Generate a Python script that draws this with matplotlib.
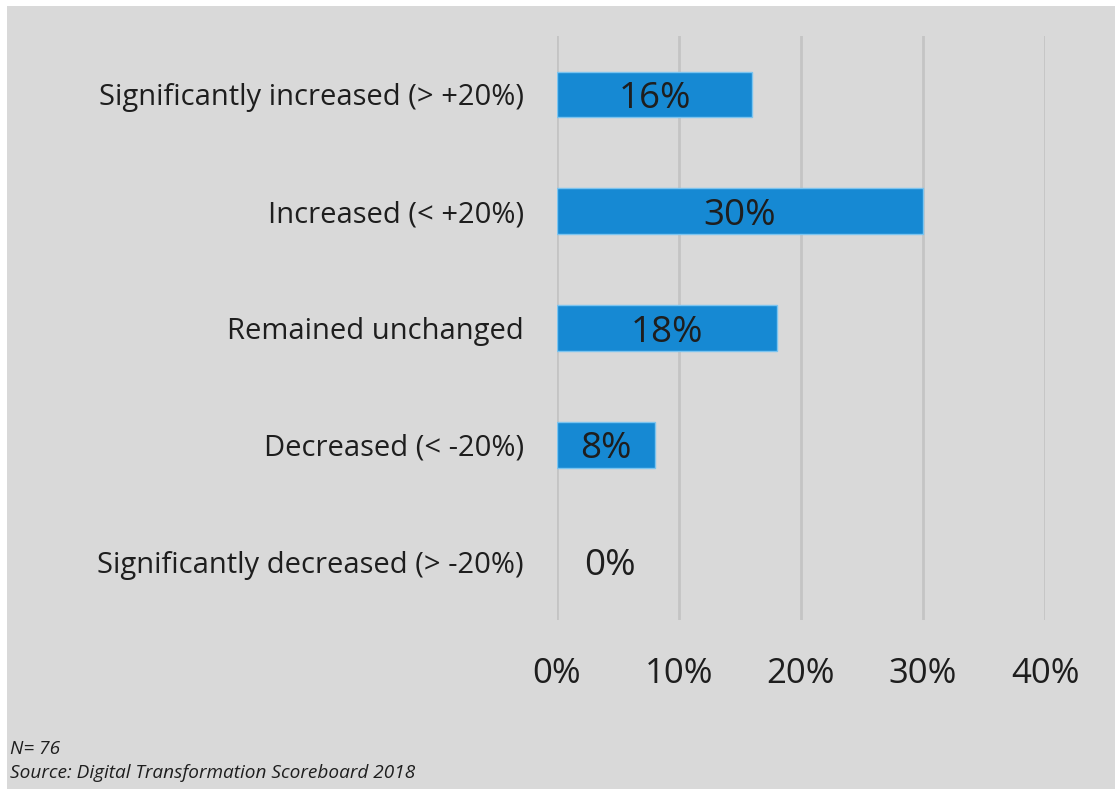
import matplotlib
matplotlib.use("Agg")
import matplotlib.pyplot as plt
from matplotlib.patches import Rectangle

categories = [
    "Significantly increased (> +20%)",
    "Increased (< +20%)",
    "Remained unchanged",
    "Decreased (< -20%)",
    "Significantly decreased (> -20%)",
]
values = [16, 30, 18, 8, 0]
value_labels = ["16%", "30%", "18%", "8%", "0%"]
xticks = [0, 10, 20, 30, 40]
xtick_labels = ["0%", "10%", "20%", "30%", "40%"]
note_n = "N= 76"
note_source = "Source: Digital Transformation Scoreboard 2018"

W, H = 1115, 789
bg = "#d9d9d9"
bar_color = "#1689d3"
text_color = "#1e1e1e"

plt.rcParams["font.family"] = ["Open Sans", "DejaVu Sans"]

fig = plt.figure(figsize=(W / 100, H / 100), dpi=100)
fig.patch.set_facecolor("white")
# grey panel, leaving a thin white margin at top and left
fig.patches.append(Rectangle((7 / W, 0), 1, 1 - 6 / H, transform=fig.transFigure,
                             facecolor=bg, edgecolor="none", zorder=-10))

ax_left, ax_right = 557 / W, 1045 / W
ax_top, ax_bottom = 1 - 36 / H, 1 - 620 / H
ax = fig.add_axes([ax_left, ax_bottom, ax_right - ax_left, ax_top - ax_bottom])
ax.set_facecolor("none")

ypos = list(range(len(categories)))
edge_widths = [1.0 if v > 0 else 0.0 for v in values]
ax.barh(ypos, values, height=0.39, color=bar_color, edgecolor="#7cc4ef",
        linewidth=edge_widths, zorder=3)

for y, v, lab in zip(ypos, values, value_labels):
    cx = v / 2 if v > 0 else 4.3
    ax.text(cx, y, lab, ha="center", va="center_baseline", fontsize=26.5,
            color=text_color, zorder=4)

ax.set_xlim(0, 40)
ax.set_ylim(len(categories) - 0.5, -0.5)
ax.set_xticks(xticks)
ax.set_xticklabels(xtick_labels, fontsize=25, color=text_color, va="center")
ax.set_yticks(ypos)
ax.set_yticklabels(categories, fontsize=21, color=text_color)
ax.tick_params(axis="x", length=0, pad=39)
ax.tick_params(axis="y", length=0, pad=24)
ax.grid(axis="x", color="#c4c4c4", linewidth=2.0, zorder=0)
for s in ax.spines.values():
    s.set_visible(False)

fig.text(10 / W, 1 - 749 / H, note_n, fontsize=13.7, style="italic",
         color=text_color, ha="left", va="center")
fig.text(10 / W, 1 - 773 / H, note_source, fontsize=13.7, style="italic",
         color=text_color, ha="left", va="center")

fig.savefig("out.png", dpi=100, facecolor=fig.get_facecolor())
